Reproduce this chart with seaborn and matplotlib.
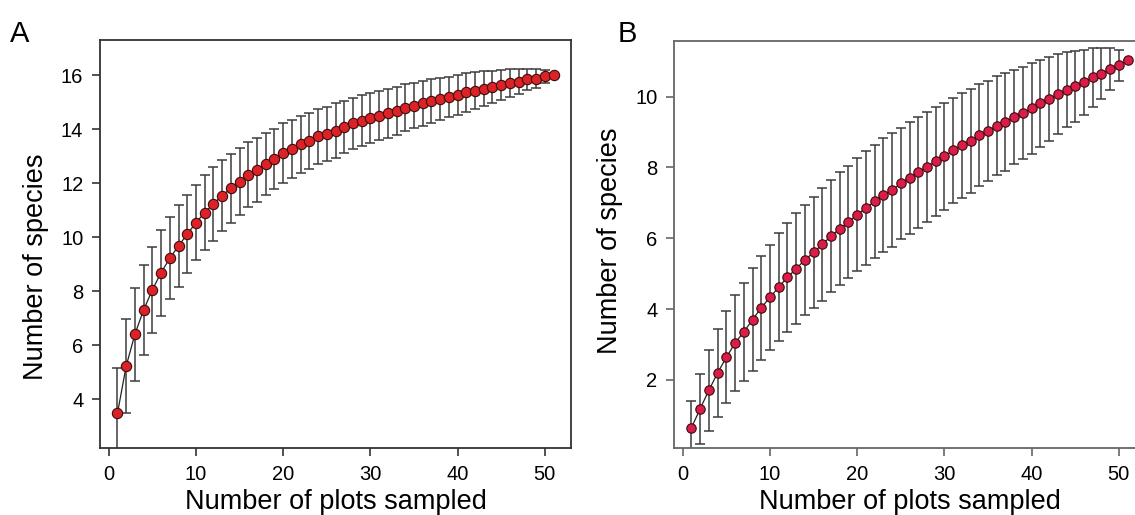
import numpy as np
import pandas as pd
import matplotlib
matplotlib.use("Agg")
import matplotlib.pyplot as plt
import seaborn as sns

# plots sampled (1..51)
plots = list(range(1, 52))

# Panel A: mean species richness and sd
rich_a = [3.48, 5.23, 6.41, 7.31, 8.05, 8.69, 9.22, 9.68, 10.11, 10.54,
          10.91, 11.23, 11.54, 11.81, 12.06, 12.31, 12.49, 12.71, 12.90, 13.11,
          13.26, 13.44, 13.55, 13.73, 13.83, 13.95, 14.07, 14.21, 14.31, 14.41,
          14.50, 14.59, 14.68, 14.80, 14.87, 14.95, 15.04, 15.11, 15.19, 15.27,
          15.36, 15.42, 15.50, 15.56, 15.63, 15.70, 15.76, 15.84, 15.87, 15.95,
          16.00]
sd_a = [1.67, 1.73, 1.72, 1.68, 1.59, 1.59, 1.52, 1.51, 1.45, 1.40,
        1.38, 1.36, 1.31, 1.27, 1.25, 1.20, 1.18, 1.14, 1.12, 1.10,
        1.08, 1.05, 1.04, 1.02, 1.00, 1.00, 0.97, 0.96, 0.94, 0.93,
        0.91, 0.90, 0.89, 0.87, 0.84, 0.82, 0.80, 0.77, 0.75, 0.73,
        0.71, 0.68, 0.64, 0.61, 0.56, 0.51, 0.45, 0.39, 0.34, 0.24,
        0.0]

# Panel B
rich_b = [0.65, 1.19, 1.71, 2.20, 2.64, 3.04, 3.36, 3.70, 4.04, 4.33,
          4.62, 4.90, 5.14, 5.39, 5.60, 5.83, 6.06, 6.27, 6.46, 6.67,
          6.86, 7.04, 7.22, 7.36, 7.55, 7.70, 7.86, 8.02, 8.17, 8.32,
          8.48, 8.62, 8.74, 8.91, 9.03, 9.18, 9.29, 9.43, 9.54, 9.67,
          9.81, 9.93, 10.07, 10.19, 10.29, 10.40, 10.54, 10.65, 10.78, 10.89,
          11.02]
sd_b = [0.76, 0.99, 1.14, 1.24, 1.30, 1.36, 1.38, 1.45, 1.47, 1.48,
        1.52, 1.54, 1.57, 1.55, 1.57, 1.59, 1.59, 1.60, 1.59, 1.60,
        1.60, 1.60, 1.60, 1.60, 1.57, 1.57, 1.57, 1.55, 1.55, 1.51,
        1.49, 1.49, 1.47, 1.44, 1.42, 1.40, 1.38, 1.33, 1.30, 1.28,
        1.22, 1.18, 1.12, 1.06, 1.00, 0.92, 0.83, 0.72, 0.60, 0.44,
        0.0]

sns.set_style("ticks")
plt.rcParams['font.family'] = ['Liberation Sans', 'DejaVu Sans']
plt.rcParams['text.color'] = 'black'
plt.rcParams['axes.labelcolor'] = 'black'

fig = plt.figure(figsize=(11.35, 5.15), dpi=100)
ax_a = fig.add_axes([100 / 1135, 67 / 515, 471 / 1135, 408 / 515])
ax_b = fig.add_axes([674 / 1135, 67 / 515, 471 / 1135, 407 / 515])


def draw_panel(ax, rich, sd, color, size, ylim, yticks, spine_col, ylab_y):
    df = pd.DataFrame({"plots": plots, "species": rich, "sd": sd})
    ax.errorbar(df["plots"], df["species"], yerr=df["sd"], fmt="none",
                ecolor="#3c3c3c", elinewidth=1.1, capsize=3.8, capthick=1.1,
                zorder=1)
    sns.lineplot(data=df, x="plots", y="species", ax=ax, color="#222222",
                 linewidth=0.9, zorder=2)
    sns.scatterplot(data=df, x="plots", y="species", ax=ax, color=color,
                    edgecolor="#3a0c0c", linewidth=0.8, s=size, zorder=3)
    ax.set_xlim(-1, 53)
    ax.set_ylim(*ylim)
    ax.set_xticks(range(0, 51, 10))
    ax.set_yticks(yticks)
    ax.tick_params(labelsize=14.5, length=6, width=1.2, color=spine_col,
                   labelcolor="black", pad=6)
    for sp in ax.spines.values():
        sp.set_visible(True)
        sp.set_color(spine_col)
        sp.set_linewidth(1.3)
    ax.set_xlabel("Number of plots sampled", fontsize=19.5, labelpad=4)
    ax.set_ylabel("Number of species", fontsize=19.5)
    ax.yaxis.set_label_coords(-0.108, ylab_y)


draw_panel(ax_a, rich_a, sd_a, "#dc2226", 55, (2.2, 17.3),
           range(4, 17, 2), "#333333", 0.445)
draw_panel(ax_b, rich_b, sd_b, "#d91c48", 46, (0.08, 11.57),
           range(2, 11, 2), "#666666", 0.51)

fig.text(10 / 1135, 1 - 42 / 515, "A", fontsize=21)
fig.text(618 / 1135, 1 - 42 / 515, "B", fontsize=21)

fig.savefig("out.png", dpi=100)
